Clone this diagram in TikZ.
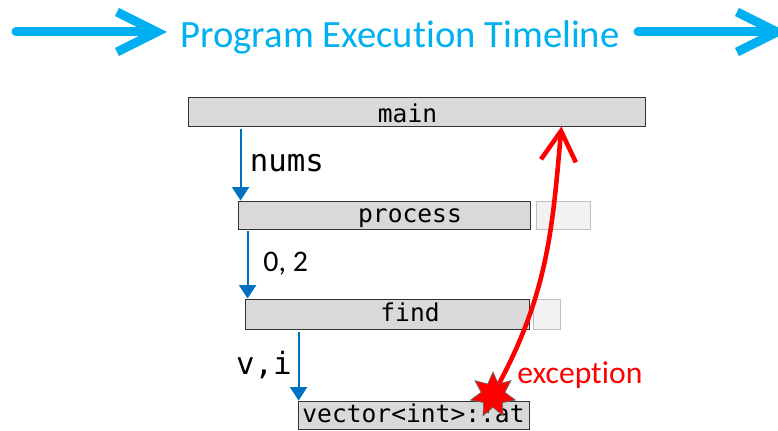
\documentclass[tikz,border=0pt]{standalone}
\usepackage{fontspec}
\setmainfont{Carlito}[Ligatures=NoCommon]
\newfontfamily\codefont{DejaVu Sans Mono}
\usetikzlibrary{positioning,arrows.meta,shapes.geometric}
\definecolor{titlecyan}{HTML}{00B0F0}
\definecolor{callblue}{HTML}{0070C0}
\definecolor{framegray}{HTML}{D9D9D9}
\definecolor{tailgray}{HTML}{F2F2F2}
\definecolor{tailedge}{HTML}{BFBFBF}
\tikzstyle{frame} = [rectangle, draw=black!80, fill=framegray, line width=0.5pt, minimum height=0.58cm, inner sep=0pt]
\tikzstyle{tail} = [rectangle, draw=tailedge, fill=tailgray, line width=0.5pt, minimum height=0.56cm, inner sep=0pt]
\tikzstyle{code} = [font=\codefont\fontsize{14}{16}\selectfont, text height=10.6pt, text depth=1.6pt, inner sep=0pt]
\tikzstyle{call} = [draw=callblue, line width=1.1pt, -{Triangle[length=0.27cm, width=0.34cm]}]
\tikzset{
  bigarrow/.style={
    draw=titlecyan,
    line width=0.18cm,
    line cap=round,
    -{Straight Barb[length=0.8cm, width=0.8cm]} % open chevron head
  },
  throw/.style={draw=red, line width=2.6pt, -{Straight Barb[length=0.6cm, width=0.7cm]}},
  argcode/.style={font=\codefont\fontsize{17.5}{19}\selectfont},
  argtext/.style={font=\fontsize{17}{19}\selectfont}
}

\begin{document}
\begin{tikzpicture}
    \useasboundingbox (0,0) rectangle (15.56,8.6);
    % title line
    \node (title)[anchor=base, text=titlecyan, font=\fontsize{22}{24}\selectfont] at (8.0,7.64) {Program Execution Timeline};
    \coordinate (lstart) at (0.32,7.96);
    \coordinate (ltip) at (3.34,7.96);
    \coordinate (rstart) at (12.76,7.96);
    \coordinate (rtip) at (15.74,7.96);
    \draw[bigarrow] (lstart) -- (ltip);
    \draw[bigarrow] (rstart) -- (rtip);

    % call stack
    \node (main)[frame, minimum width=9.14cm, label={[code, xshift=-0.18cm, yshift=-0.07cm]center:main}] at (8.33,6.37) {};
    \node (process)[frame, minimum width=5.84cm, minimum height=0.56cm, label={[code, xshift=0.52cm]center:process}] at (7.68,4.30) {};
    \node (processtail)[tail, minimum width=1.08cm] at (11.26,4.30) {};
    \node (find)[frame, minimum width=5.68cm, minimum height=0.6cm, label={[code, xshift=0.46cm]center:find}] at (7.74,2.32) {};
    \node (findtail)[tail, minimum width=0.54cm, minimum height=0.6cm] at (10.93,2.32) {};
    \node (at)[frame, code, minimum width=4.62cm, minimum height=0.56cm] at (8.27,0.30) {vector<int>::at};

    \draw[call, shorten <=0.06cm] ([xshift=0.06cm]process.north west |- main.south) -- node[right, argcode, xshift=0.05cm]{nums} ([xshift=0.06cm]process.north west);
    \draw[call, shorten <=0.04cm] ([xshift=0.2cm]process.south west) -- node[right, argtext, xshift=0.18cm]{0, 2} ([xshift=0.2cm]process.south west |- find.north);
    \draw[call, shorten <=0.06cm] ([xshift=0.02cm]at.north west |- find.south) -- node[left, argcode]{v,i} ([xshift=0.02cm]at.north west);

    % the exception
    \node (exc)[star, star points=7, star point ratio=1.9, minimum size=0.92cm, fill=red, draw=black!60, line width=0.4pt, inner sep=0pt] at (9.86,0.70) {};
    \draw[throw] (exc) to[out=62, in=-95] ([xshift=-1.68cm]main.south east);
    \node (exclabel)[anchor=base west, text=red, inner sep=0pt, font=\fontsize{18}{20}\selectfont] at (10.34,0.94) {exception};

\end{tikzpicture}
\end{document}
